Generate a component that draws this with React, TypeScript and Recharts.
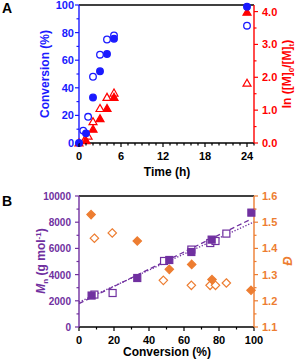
import React from 'react';
import { ScatterChart, Scatter, XAxis, YAxis, ReferenceLine } from 'recharts';

// Panel A: conversion (left axis) and ln([M]0/[M]t) (right axis) vs time
const timeFilled = [0, 1, 2, 3, 4, 5, 24];
const convFilled = [0, 7, 33, 52, 64.5, 75.5, 98.8];
const timeOpen = [0.6, 1.3, 2, 3, 4, 5, 24];
const convOpen = [9, 19, 48, 64, 75, 78, 85];
const lnTimeFilled = [0, 1, 2, 3, 4, 5, 24];
const lnFilled = [0, 0.07, 0.42, 0.74, 1.05, 1.39, 3.98];
const lnTimeOpen = [0.85, 1.3, 2, 3, 4, 5, 24];
const lnOpen = [0.11, 0.21, 0.65, 1.05, 1.39, 1.52, 1.82];

// Panel B: Mn (left axis) and dispersity (right axis) vs conversion
const mnConvFilled = [7.2, 33.3, 51.6, 64.2, 75.8, 98.5];
const mnFilled = [2400, 3740, 5115, 5725, 6670, 8730];
const mnConvOpen = [8.8, 19.2, 48.6, 64.2, 75, 78, 84.2];
const mnOpen = [2475, 2595, 5040, 5910, 6410, 6565, 7130];
const dConvFilled = [6.9, 33.3, 51.6, 64.4, 76, 98.3];
const dFilled = [1.529, 1.428, 1.32, 1.339, 1.281, 1.24];
const dConvOpen = [8.8, 19, 48.2, 64.2, 74.9, 78, 84.2];
const dOpen = [1.439, 1.459, 1.278, 1.259, 1.259, 1.259, 1.268];
const fitDashedX = [0, 98];
const fitDashedY = [1786, 8215];
const fitDottedX = [0, 100];
const fitDottedY = [1895, 8015];

// ticks
const timeTicks = Array.from({ length: 26 }, (_, i) => i);
const convTicks = [0, 10, 20, 30, 40, 50, 60, 70, 80, 90, 100];
const lnTicks = [0, 0.5, 1, 1.5, 2, 2.5, 3, 3.5, 4];
const mnTicks = [0, 1000, 2000, 3000, 4000, 5000, 6000, 7000, 8000, 9000, 10000];
const dTicks = [1.1, 1.15, 1.2, 1.25, 1.3, 1.35, 1.4, 1.45, 1.5, 1.55, 1.6];

const BLUE = '#1a1aff';
const RED = '#ff0000';
const PURPLE = '#7030a0';
const ORANGE = '#ed7d31';
const FONT = '"Liberation Sans", Arial, sans-serif';

const zip = (xs: number[], ys: number[]) => xs.map((x, i) => ({ x, y: ys[i] }));

type TickOpts = {
  side: 'left' | 'right' | 'bottom';
  isMajor: (v: number) => boolean;
  fmt: (v: number) => string;
  color: string;
  fontSize?: number;
  gap?: number;
};

const makeTick = ({ side, isMajor, fmt, color, fontSize = 11, gap = 6 }: TickOpts) =>
  (props: any) => {
    const { x, y, payload } = props;
    const v = payload.value;
    const major = isMajor(v);
    const len = major ? 4 : 2.5;
    const common = { fill: color, fontSize, fontWeight: 700, fontFamily: FONT };
    if (side === 'bottom') {
      return (
        <g>
          <line x1={x} x2={x} y1={y} y2={y + len} stroke="#000" strokeWidth={1.2} />
          {major && (
            <text x={x} y={y + 17} textAnchor="middle" {...common}>
              {fmt(v)}
            </text>
          )}
        </g>
      );
    }
    const dir = side === 'left' ? -1 : 1;
    return (
      <g>
        <line x1={x} x2={x + dir * len} y1={y} y2={y} stroke={color} strokeWidth={1.2} />
        {major && (
          <text x={x + dir * gap} y={y + 4} textAnchor={side === 'left' ? 'end' : 'start'} {...common}>
            {fmt(v)}
          </text>
        )}
      </g>
    );
  };

const near = (v: number, step: number) => Math.abs(v / step - Math.round(v / step)) < 1e-6;

const circle = (filled: boolean, color: string) => (p: any) =>
  <circle cx={p.cx} cy={p.cy} r={3.3} fill={filled ? color : '#fff'} stroke={color} strokeWidth={1.3} />;
const triangle = (filled: boolean, color: string) => (p: any) => {
  const s = 4;
  return (
    <polygon
      points={`${p.cx},${p.cy - s} ${p.cx - s},${p.cy + s * 0.75} ${p.cx + s},${p.cy + s * 0.75}`}
      fill={filled ? color : '#fff'}
      stroke={color}
      strokeWidth={1.2}
    />
  );
};
const square = (filled: boolean, color: string) => (p: any) =>
  <rect x={p.cx - 3.5} y={p.cy - 3.5} width={7} height={7} fill={filled ? color : '#fff'} stroke={color} strokeWidth={1.2} />;
const diamond = (filled: boolean, color: string) => (p: any) => {
  const s = 4.2;
  return (
    <polygon
      points={`${p.cx},${p.cy - s} ${p.cx + s},${p.cy} ${p.cx},${p.cy + s} ${p.cx - s},${p.cy}`}
      fill={filled ? color : '#fff'}
      stroke={color}
      strokeWidth={1.2}
    />
  );
};
const none = () => <g />;

function PanelA() {
  return (
    <ScatterChart width={296} height={180} margin={{ top: 5, right: 0, bottom: 0, left: 0 }}>
      <XAxis
        type="number"
        dataKey="x"
        domain={[0, 25]}
        ticks={timeTicks}
        interval={0}
        tickSize={0}
        tickMargin={0}
        height={37}
        axisLine={{ stroke: '#000', strokeWidth: 1.4 }}
        tick={makeTick({ side: 'bottom', isMajor: (v) => near(v, 6), fmt: (v) => String(v), color: '#000' })}
      />
      <YAxis
        yAxisId="left"
        type="number"
        dataKey="y"
        domain={[0, 100]}
        ticks={convTicks}
        interval={0}
        tickSize={0}
        tickMargin={0}
        width={79}
        axisLine={{ stroke: BLUE, strokeWidth: 1.4 }}
        tick={makeTick({ side: 'left', isMajor: (v) => near(v, 20), fmt: (v) => String(v), color: BLUE, gap: 5 })}
      />
      <YAxis
        yAxisId="right"
        orientation="right"
        type="number"
        dataKey="y"
        domain={[0, 4.2]}
        ticks={lnTicks}
        interval={0}
        tickSize={0}
        tickMargin={0}
        width={42}
        axisLine={{ stroke: RED, strokeWidth: 1.4 }}
        tick={makeTick({ side: 'right', isMajor: (v) => near(v, 1), fmt: (v) => v.toFixed(1), color: RED, gap: 8 })}
      />
      <ReferenceLine yAxisId="left" y={100} stroke="#000" strokeWidth={1.4} />
      <Scatter yAxisId="right" data={zip(lnTimeOpen, lnOpen)} shape={triangle(false, RED)} isAnimationActive={false} />
      <Scatter yAxisId="right" data={zip(lnTimeFilled, lnFilled)} shape={triangle(true, RED)} isAnimationActive={false} />
      <Scatter yAxisId="left" data={zip(timeOpen, convOpen)} shape={circle(false, BLUE)} isAnimationActive={false} />
      <Scatter yAxisId="left" data={zip(timeFilled, convFilled)} shape={circle(true, BLUE)} isAnimationActive={false} />
    </ScatterChart>
  );
}

function PanelB() {
  return (
    <ScatterChart width={296} height={182} margin={{ top: 16, right: 0, bottom: 0, left: 0 }}>
      <XAxis
        type="number"
        dataKey="x"
        domain={[0, 100]}
        ticks={convTicks}
        interval={0}
        tickSize={0}
        tickMargin={0}
        height={35}
        axisLine={{ stroke: '#000', strokeWidth: 1.4 }}
        tick={makeTick({ side: 'bottom', isMajor: (v) => near(v, 20), fmt: (v) => String(v), color: '#000' })}
      />
      <YAxis
        yAxisId="left"
        type="number"
        dataKey="y"
        domain={[0, 10000]}
        ticks={mnTicks}
        interval={0}
        tickSize={0}
        tickMargin={0}
        width={79}
        axisLine={{ stroke: PURPLE, strokeWidth: 1.4 }}
        tick={makeTick({ side: 'left', isMajor: (v) => near(v, 2000), fmt: (v) => String(v), color: PURPLE, gap: 8, fontSize: 10 })}
      />
      <YAxis
        yAxisId="right"
        orientation="right"
        type="number"
        dataKey="y"
        domain={[1.1, 1.6]}
        ticks={dTicks}
        interval={0}
        tickSize={0}
        tickMargin={0}
        width={42}
        axisLine={{ stroke: ORANGE, strokeWidth: 1.4 }}
        tick={makeTick({ side: 'right', isMajor: (v) => near(v, 0.1), fmt: (v) => v.toFixed(1), color: ORANGE, gap: 8 })}
      />
      <ReferenceLine yAxisId="left" y={10000} stroke="#000" strokeWidth={1.4} />
      <Scatter
        yAxisId="left"
        data={zip(fitDashedX, fitDashedY)}
        shape={none}
        line={{ stroke: PURPLE, strokeWidth: 1.3, strokeDasharray: '5 3' }}
        isAnimationActive={false}
      />
      <Scatter
        yAxisId="left"
        data={zip(fitDottedX, fitDottedY)}
        shape={none}
        line={{ stroke: PURPLE, strokeWidth: 1.3, strokeDasharray: '1.3 1.7' }}
        isAnimationActive={false}
      />
      <Scatter yAxisId="right" data={zip(dConvOpen, dOpen)} shape={diamond(false, ORANGE)} isAnimationActive={false} />
      <Scatter yAxisId="right" data={zip(dConvFilled, dFilled)} shape={diamond(true, ORANGE)} isAnimationActive={false} />
      <Scatter yAxisId="left" data={zip(mnConvOpen, mnOpen)} shape={square(false, PURPLE)} isAnimationActive={false} />
      <Scatter yAxisId="left" data={zip(mnConvFilled, mnFilled)} shape={square(true, PURPLE)} isAnimationActive={false} />
    </ScatterChart>
  );
}

export default function App() {
  const title = { fontFamily: FONT, fontWeight: 700, fontSize: 12 };
  return (
    <div style={{ position: 'absolute', left: 0, top: 0, width: 296, height: 362, background: '#fff' }}>
      <div style={{ position: 'absolute', left: 0, top: 0 }}>
        <PanelA />
      </div>
      <div style={{ position: 'absolute', left: 0, top: 180 }}>
        <PanelB />
      </div>
      <svg width={296} height={362} style={{ position: 'absolute', left: 0, top: 0, pointerEvents: 'none' }}>
        <text x={2} y={13} style={{ ...title, fontSize: 14 }}>A</text>
        <text x={2} y={206} style={{ ...title, fontSize: 14 }}>B</text>
        <text x={167} y={176} textAnchor="middle" style={title}>Time (h)</text>
        <text x={167} y={356} textAnchor="middle" style={title}>Conversion (%)</text>
        <text transform="translate(49,74) rotate(-90)" textAnchor="middle" fill={BLUE} style={title}>
          Conversion (%)
        </text>
        <text transform="translate(291,74) rotate(-90)" textAnchor="middle" fill={RED} style={title}>
          ln ([M]<tspan dy={3} fontSize={8}>0</tspan>
          <tspan dy={-3}>/[M]</tspan>
          <tspan dy={3} fontSize={8}>t</tspan>
          <tspan dy={-3}>)</tspan>
        </text>
        <text transform="translate(45,261) rotate(-90)" textAnchor="middle" fill={PURPLE} style={title}>
          <tspan fontStyle="italic">M</tspan>
          <tspan dy={3} fontSize={8}>n</tspan>
          <tspan dy={-3}> (g mol</tspan>
          <tspan dy={-4} fontSize={8}>-1</tspan>
          <tspan dy={4}>)</tspan>
        </text>
        <text transform="translate(292,261) rotate(-90)" textAnchor="middle" fill={ORANGE} style={{ ...title, fontSize: 13, fontStyle: 'italic' }}>
          Đ
        </text>
      </svg>
    </div>
  );
}
